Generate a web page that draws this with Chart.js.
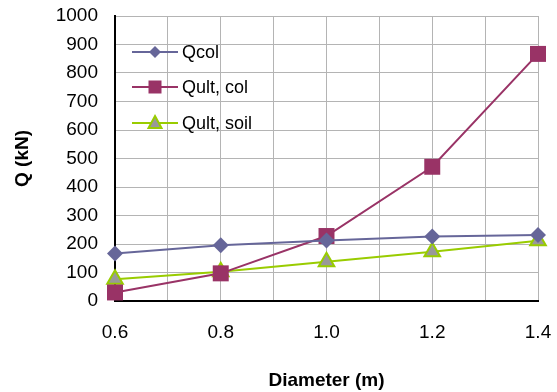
<!DOCTYPE html>
<html>
<head>
<meta charset="utf-8">
<script src="https://cdn.jsdelivr.net/npm/chart.js@4/dist/chart.umd.min.js"></script>
<style>
	html, body { margin: 0; padding: 0; background: #fff; }
	#wrap { width: 557px; height: 392px; }
</style>
</head>
<body>
<div id="wrap"><canvas id="result_chart"></canvas></div>
<script>
var diameters = [0.6, 0.8, 1.0, 1.2, 1.4];
var qcol = [167, 196, 212, 226, 232];
var qultCol = [30, 97, 228, 471, 867];
var qultSoil = [76, 103, 138, 173, 211];

function pts(vals) {
	return diameters.map(function (d, i) { return { x: d, y: vals[i] }; });
}

var FONT = '"Liberation Sans", Arial, sans-serif';

// legend drawn inside the plot, line + marker + label
var boxLegend = {
	id: 'boxLegend',
	afterDatasetsDraw: function (chart) {
		var ctx = chart.ctx;
		var rows = [52, 87, 123];
		chart.data.datasets.forEach(function (ds, i) {
			var y = rows[i];
			ctx.save();
			ctx.strokeStyle = ds.borderColor;
			ctx.lineWidth = 2;
			ctx.beginPath();
			ctx.moveTo(132, y);
			ctx.lineTo(178, y);
			ctx.stroke();
			var cx = 155;
			ctx.fillStyle = ds.pointBackgroundColor;
			ctx.strokeStyle = ds.pointBorderColor;
			ctx.lineWidth = ds.pointBorderWidth;
			ctx.beginPath();
			if (ds.pointStyle === 'rectRot') {
				ctx.moveTo(cx, y - 6); ctx.lineTo(cx + 6, y); ctx.lineTo(cx, y + 6); ctx.lineTo(cx - 6, y);
			} else if (ds.pointStyle === 'rect') {
				ctx.rect(cx - 6.5, y - 6.5, 13, 13);
			} else {
				ctx.moveTo(cx, y - 7); ctx.lineTo(cx + 6.5, y + 5); ctx.lineTo(cx - 6.5, y + 5);
			}
			ctx.closePath();
			ctx.fill();
			if (ds.pointBorderWidth) ctx.stroke();
			ctx.fillStyle = '#000';
			ctx.font = '18px ' + FONT;
			ctx.textBaseline = 'middle';
			ctx.fillText(ds.label, 182, y + 1);
			ctx.restore();
		});
	}
};

var config = {
	type: 'line',
	data: {
		datasets: [{
			label: 'Qcol',
			data: pts(qcol),
			borderColor: '#666699',
			backgroundColor: '#666699',
			pointBackgroundColor: '#666699',
			pointBorderColor: '#666699',
			pointBorderWidth: 0,
			pointStyle: 'rectRot',
			pointRadius: 8,
			borderWidth: 2,
			clip: false
		}, {
			label: 'Qult, col',
			data: pts(qultCol),
			borderColor: '#993366',
			backgroundColor: '#993366',
			pointBackgroundColor: '#993366',
			pointBorderColor: '#993366',
			pointBorderWidth: 0,
			pointStyle: 'rect',
			pointRadius: 11.3,
			borderWidth: 2,
			clip: false
		}, {
			label: 'Qult, soil',
			data: pts(qultSoil),
			borderColor: '#99cc00',
			backgroundColor: '#999999',
			pointBackgroundColor: '#999999',
			pointBorderColor: '#99cc00',
			pointBorderWidth: 2,
			pointStyle: 'triangle',
			pointRadius: 9,
			borderWidth: 2,
			clip: false
		}]
	},
	options: {
		responsive: true,
		maintainAspectRatio: false,
		animation: false,
		layout: {
			autoPadding: false,
			padding: { left: 0, right: 19, top: 16, bottom: 0 }
		},
		plugins: {
			legend: { display: false },
			tooltip: { enabled: false }
		},
		scales: {
			x: {
				type: 'linear',
				min: 0.6,
				max: 1.4,
				afterFit: function (scale) {
					scale.height = 91;
					scale.paddingLeft = 0;
					scale.paddingRight = 0;
				},
				grid: { color: '#b4b4b4', lineWidth: 1, drawTicks: false },
				border: { color: '#000', width: 2 },
				ticks: {
					stepSize: 0.1,
					padding: 20,
					color: '#000',
					font: { family: FONT, size: 19 },
					callback: function (v, i) { return i % 2 === 0 ? v.toFixed(1) : ''; }
				},
				title: {
					display: true,
					text: 'Diameter (m)',
					color: '#000',
					font: { family: FONT, size: 19, weight: 'bold' },
					padding: { top: 0, bottom: 0 }
				}
			},
			y: {
				min: 0,
				max: 1000,
				afterFit: function (scale) {
					scale.width = 115;
					scale.paddingTop = 0;
					scale.paddingBottom = 0;
				},
				grid: { color: '#b4b4b4', lineWidth: 1, drawTicks: false },
				border: { color: '#000', width: 2 },
				ticks: {
					stepSize: 100,
					padding: 17,
					color: '#000',
					font: { family: FONT, size: 19 },
					callback: function (v) { return String(v); }
				},
				title: {
					display: true,
					text: 'Q (kN)',
					color: '#000',
					font: { family: FONT, size: 19, weight: 'bold' },
					padding: { top: 11, bottom: 0 }
				}
			}
		}
	},
	plugins: [boxLegend]
};

var chart = new Chart(document.getElementById('result_chart'), config);
</script>
</body>
</html>
